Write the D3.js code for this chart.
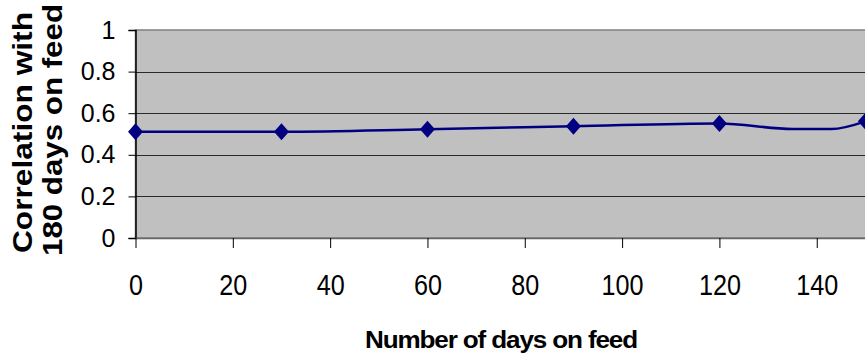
<!DOCTYPE html>
<html>
<head>
<meta charset="utf-8">
<script src="https://cdn.jsdelivr.net/npm/d3@7"></script>
<style>
  html, body { margin: 0; padding: 0; background: #fff; }
  svg { display: block; font-family: "Liberation Sans", Arial, sans-serif; }
</style>
</head>
<body>
<svg id="chart" width="865" height="360"></svg>
<script>
// ---- data ----
const markerDays   = [0, 30, 60, 90, 120, 150];
const markerValues = [0.511, 0.511, 0.523, 0.537, 0.551, 0.561];
const lineDays     = [0, 30, 60, 90, 120, 135, 143, 150];
const lineValues   = [0.511, 0.511, 0.523, 0.537, 0.551, 0.524, 0.524, 0.561];
const xTicks = [0, 20, 40, 60, 80, 100, 120, 140];
const yTicks = [0, 0.2, 0.4, 0.6, 0.8, 1];
const yTitleLines = ["Correlation with", "180 days on feed"];
const xTitle = "Number of days on feed";

// ---- layout ----
const svg = d3.select("#chart");
const plotLeft = 135.5, plotTop = 30, plotBottom = 238;
const pxPerDay = 4.866;
const x = d3.scaleLinear().domain([0, 180]).range([plotLeft, plotLeft + 180 * pxPerDay]);
const y = d3.scaleLinear().domain([0, 1]).range([plotBottom, plotTop]);
const plotW = x(180) - plotLeft;

// plot background
svg.append("rect")
  .attr("x", plotLeft).attr("y", plotTop)
  .attr("width", plotW).attr("height", plotBottom - plotTop)
  .attr("fill", "#c0c0c0")
  .attr("stroke", "#808080").attr("stroke-width", 1.5);

// gridlines
svg.append("g").selectAll("line")
  .data(yTicks.filter(d => d > 0 && d < 1))
  .join("line")
  .attr("x1", plotLeft).attr("x2", plotLeft + plotW)
  .attr("y1", d => Math.round(y(d)) + 0.5).attr("y2", d => Math.round(y(d)) + 0.5)
  .attr("stroke", "#2a2a2a").attr("stroke-width", 1);

// y axis
const yAxis = svg.append("g")
  .attr("transform", `translate(${plotLeft},0)`)
  .call(d3.axisLeft(y).tickValues(yTicks).tickSize(7).tickPadding(13)
        .tickFormat(d => d === 0 ? "0" : d === 1 ? "1" : String(d)));
yAxis.select(".domain").attr("stroke", "#000").attr("stroke-width", 1.5);
yAxis.selectAll(".tick line").attr("stroke", "#000");
yAxis.selectAll(".tick text")
  .attr("font-size", 25).attr("fill", "#000")
  .attr("font-family", "'Liberation Sans', Arial, sans-serif");

// x axis
const xAxis = svg.append("g")
  .attr("transform", `translate(0,${plotBottom})`)
  .call(d3.axisBottom(x).tickValues(xTicks).tickSize(10).tickPadding(0)
        .tickSizeOuter(0));
xAxis.select(".domain").attr("stroke", "#666").attr("stroke-width", 1.5);
xAxis.selectAll(".tick line").attr("stroke", "#000");
xAxis.selectAll(".tick text")
  .attr("font-size", 30).attr("fill", "#000")
  .attr("font-family", "'Liberation Sans', Arial, sans-serif")
  .attr("y", 0).attr("dy", 0)
  .attr("transform", "translate(0,57) scale(0.84,1)");

// line
const pts = lineDays.map((d, i) => [d, lineValues[i]]);
svg.append("path")
  .datum(pts)
  .attr("fill", "none")
  .attr("stroke", "#000080")
  .attr("stroke-width", 2.5)
  .attr("d", d3.line().x(d => x(d[0])).y(d => y(d[1])).curve(d3.curveMonotoneX));

// markers
svg.append("g").selectAll("path")
  .data(markerDays.map((d, i) => [d, markerValues[i]]))
  .join("path")
  .attr("transform", d => `translate(${x(d[0])},${y(d[1])})`)
  .attr("d", "M0,-8.5L7.5,0L0,8.5L-7.5,0Z")
  .attr("fill", "#000080");

// y title
svg.append("g").selectAll("text")
  .data(yTitleLines)
  .join("text")
  .attr("transform", (d, i) => `translate(${i === 0 ? 32 : 62},${i === 0 ? 132.5 : 130}) rotate(-90)`)
  .attr("text-anchor", "middle")
  .attr("font-size", 28).attr("font-weight", "bold").attr("fill", "#000")
  .attr("textLength", (d, i) => i === 0 ? 241 : 252)
  .attr("lengthAdjust", "spacingAndGlyphs")
  .text(d => d);

// x title
svg.append("text")
  .attr("x", 501).attr("y", 348)
  .attr("text-anchor", "middle")
  .attr("font-size", 23).attr("font-weight", "bold").attr("fill", "#000")
  .attr("textLength", 272).attr("lengthAdjust", "spacingAndGlyphs")
  .attr("letter-spacing", -1)
  .text(xTitle);
</script>
</body>
</html>
